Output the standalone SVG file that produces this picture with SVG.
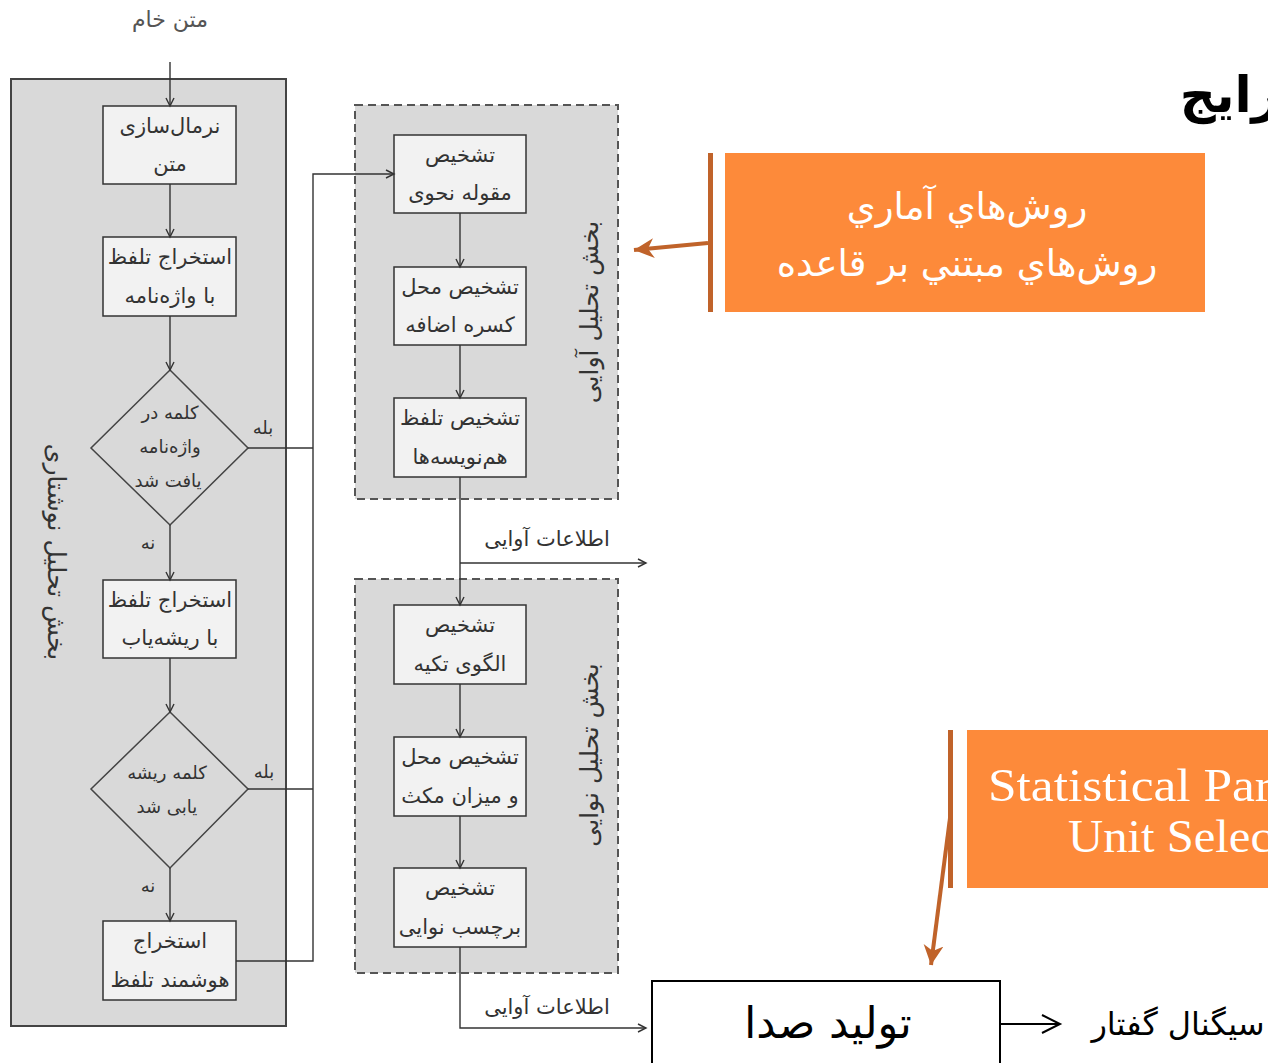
<svg xmlns="http://www.w3.org/2000/svg" width="1268" height="1063" viewBox="0 0 1268 1063">
  <style>
    .fa { font-family: "DejaVu Sans", "Noto Sans", sans-serif; fill: #333; }
    .box { fill: #f2f2f2; stroke: #333; stroke-width: 1.5; }
    .dia { fill: #d9d9d9; stroke: #444; stroke-width: 1.5; }
    .panel { fill: #d9d9d9; stroke: #444; stroke-width: 2; }
    .dash { fill: #d9d9d9; stroke: #555; stroke-width: 2; stroke-dasharray: 8 5; }
    .t { font-size: 21px; text-anchor: middle; }
    .td { font-size: 18px; text-anchor: middle; }
    .lbl { font-size: 18px; text-anchor: middle; }
    .info { font-size: 21px; text-anchor: middle; }
    .vt { font-size: 25px; text-anchor: middle; dominant-baseline: central; }
    .ln { fill: none; stroke: #333; stroke-width: 1.4; }
    .ora { fill: #fd8a3a; }
    .bar { fill: #c0632a; }
    .ot { font-family: "DejaVu Sans", sans-serif; font-size: 37px; text-anchor: middle; fill: #fff; }
    .st { font-family: "Liberation Serif", serif; font-size: 46px; fill: #fff; }
  </style>
  <defs>
    <marker id="chev" markerUnits="userSpaceOnUse" markerWidth="12" markerHeight="12" refX="9" refY="5" orient="auto">
      <path d="M1,1 L9,5 L1,9" fill="none" stroke="#333" stroke-width="1.4"/>
    </marker>
    <marker id="chevBig" markerUnits="userSpaceOnUse" markerWidth="24" markerHeight="24" refX="20" refY="11" orient="auto">
      <path d="M2,2 L20,11 L2,20" fill="none" stroke="#000" stroke-width="2"/>
    </marker>
    <marker id="oraHead" markerUnits="userSpaceOnUse" markerWidth="24" markerHeight="24" refX="20" refY="10" orient="auto">
      <path d="M0,0 L20,10 L0,20 L6,10 Z" fill="#c0632a"/>
    </marker>
  </defs>

  <!-- input label -->
  <text class="fa" x="170" y="27" font-size="22" text-anchor="middle" style="fill:#555">متن خام</text>

  <!-- textual analysis panel -->
  <g id="panel-text">
    <rect class="panel" x="11" y="79" width="275" height="947"/>
    <text class="fa vt" transform="translate(56,552) rotate(90)">بخش تحلیل نوشتاری</text>
  </g>

  <g id="n-normalize">
    <rect class="box" x="103" y="106" width="133" height="78"/>
    <text class="fa t" x="170" y="133">نرمال‌سازی</text>
    <text class="fa t" x="170" y="171">متن</text>
  </g>
  <g id="n-lexicon">
    <rect class="box" x="103" y="237" width="133" height="79"/>
    <text class="fa t" x="170" y="264">استخراج تلفظ</text>
    <text class="fa t" x="170" y="303">با واژه‌نامه</text>
  </g>
  <g id="n-found">
    <polygon class="dia" points="170,370 248,448 170,525 91,448"/>
    <text class="fa td" x="170" y="419">کلمه در</text>
    <text class="fa td" x="170" y="453">واژه‌نامه</text>
    <text class="fa td" x="168" y="487">یافت شد</text>
  </g>
  <g id="n-stemmer">
    <rect class="box" x="103" y="580" width="133" height="78"/>
    <text class="fa t" x="170" y="607">استخراج تلفظ</text>
    <text class="fa t" x="170" y="645">با ریشه‌یاب</text>
  </g>
  <g id="n-rooted">
    <polygon class="dia" points="170,712 248,789 170,868 91,789"/>
    <text class="fa td" x="167" y="779">کلمه ریشه</text>
    <text class="fa td" x="167" y="813">یابی شد</text>
  </g>
  <g id="n-smart">
    <rect class="box" x="103" y="921" width="133" height="79"/>
    <text class="fa t" x="170" y="948">استخراج</text>
    <text class="fa t" x="170" y="987">هوشمند تلفظ</text>
  </g>

  <!-- phonetic analysis panel -->
  <g id="panel-phonetic">
    <rect class="dash" x="355" y="105" width="263" height="394"/>
    <text class="fa vt" transform="translate(589,312) rotate(-90)">بخش تحلیل آوایی</text>
  </g>
  <g id="n-pos">
    <rect class="box" x="394" y="135" width="132" height="78"/>
    <text class="fa t" x="460" y="162">تشخیص</text>
    <text class="fa t" x="460" y="200">مقوله نحوی</text>
  </g>
  <g id="n-ezafe">
    <rect class="box" x="394" y="267" width="132" height="78"/>
    <text class="fa t" x="460" y="294">تشخیص محل</text>
    <text class="fa t" x="460" y="332">کسره اضافه</text>
  </g>
  <g id="n-homograph">
    <rect class="box" x="394" y="398" width="132" height="79"/>
    <text class="fa t" x="460" y="425">تشخیص تلفظ</text>
    <text class="fa t" x="460" y="464">هم‌نویسه‌ها</text>
  </g>

  <!-- prosodic analysis panel -->
  <g id="panel-prosodic">
    <rect class="dash" x="355" y="579" width="263" height="394"/>
    <text class="fa vt" transform="translate(589,755) rotate(-90)">بخش تحلیل نوایی</text>
  </g>
  <g id="n-stress">
    <rect class="box" x="394" y="605" width="132" height="79"/>
    <text class="fa t" x="460" y="632">تشخیص</text>
    <text class="fa t" x="460" y="671">الگوی تکیه</text>
  </g>
  <g id="n-pause">
    <rect class="box" x="394" y="737" width="132" height="79"/>
    <text class="fa t" x="460" y="764">تشخیص محل</text>
    <text class="fa t" x="460" y="803">و میزان مکث</text>
  </g>
  <g id="n-tone">
    <rect class="box" x="394" y="868" width="132" height="79"/>
    <text class="fa t" x="460" y="895">تشخیص</text>
    <text class="fa t" x="460" y="934">برچسب نوایی</text>
  </g>

  <!-- synthesis block -->
  <g id="n-synth">
    <rect x="652" y="981" width="348" height="100" fill="#fff" stroke="#000" stroke-width="2"/>
    <text x="828" y="1038" font-family="DejaVu Sans, sans-serif" font-size="43" text-anchor="middle" fill="#000">تولید صدا</text>
  </g>
  <text x="1178" y="1035" font-family="DejaVu Sans, sans-serif" font-size="32" text-anchor="middle" fill="#000">سیگنال گفتار</text>

  <!-- title fragment -->
  <text x="1230" y="112" font-family="DejaVu Sans, sans-serif" font-size="50" font-weight="bold" text-anchor="middle" fill="#000">رایج</text>

  <!-- callouts -->
  <g id="callout-methods">
    <rect class="bar" x="708" y="153" width="5" height="159"/>
    <rect class="ora" x="725" y="153" width="480" height="159"/>
    <text class="ot" x="967" y="219">روش‌هاي آماري</text>
    <text class="ot" x="967" y="276">روش‌هاي مبتني بر قاعده</text>
  </g>
  <g id="callout-synthesis">
    <rect class="bar" x="948" y="730" width="5" height="158"/>
    <rect class="ora" x="967" y="730" width="301" height="158"/>
    <text class="st" x="988" y="801" textLength="284" lengthAdjust="spacingAndGlyphs">Statistical Par</text>
    <text class="st" x="1068" y="852" textLength="204" lengthAdjust="spacingAndGlyphs">Unit Selec</text>
  </g>

  <!-- connectors -->
  <g id="connectors">
    <path class="ln" d="M170,62 V106" marker-end="url(#chev)"/>
    <path class="ln" d="M170,184 V237" marker-end="url(#chev)"/>
    <path class="ln" d="M170,316 V370" marker-end="url(#chev)"/>
    <path class="ln" d="M170,525 V580" marker-end="url(#chev)"/>
    <path class="ln" d="M170,658 V712" marker-end="url(#chev)"/>
    <path class="ln" d="M170,868 V921" marker-end="url(#chev)"/>
    <path class="ln" d="M248,448 H313"/>
    <path class="ln" d="M248,789 H313"/>
    <path class="ln" d="M236,961 H313 V174 H394" marker-end="url(#chev)"/>
    <path class="ln" d="M460,213 V267" marker-end="url(#chev)"/>
    <path class="ln" d="M460,345 V398" marker-end="url(#chev)"/>
    <path class="ln" d="M460,477 V605" marker-end="url(#chev)"/>
    <path class="ln" d="M460,563 H646" marker-end="url(#chev)"/>
    <path class="ln" d="M460,684 V737" marker-end="url(#chev)"/>
    <path class="ln" d="M460,816 V868" marker-end="url(#chev)"/>
    <path class="ln" d="M460,947 V1028 H646" marker-end="url(#chev)"/>
    <path d="M1000,1024 H1060" fill="none" stroke="#000" stroke-width="2" marker-end="url(#chevBig)"/>
    <path d="M708,243 L634,250" fill="none" stroke="#c0632a" stroke-width="4" marker-end="url(#oraHead)"/>
    <path d="M950,818 L931,965" fill="none" stroke="#c0632a" stroke-width="4" marker-end="url(#oraHead)"/>
    <text class="fa lbl" x="263" y="434">بله</text>
    <text class="fa lbl" x="148" y="549">نه</text>
    <text class="fa lbl" x="264" y="778">بله</text>
    <text class="fa lbl" x="148" y="892">نه</text>
    <text class="fa info" x="547" y="546">اطلاعات آوایی</text>
    <text class="fa info" x="547" y="1014">اطلاعات آوایی</text>
  </g>
</svg>
